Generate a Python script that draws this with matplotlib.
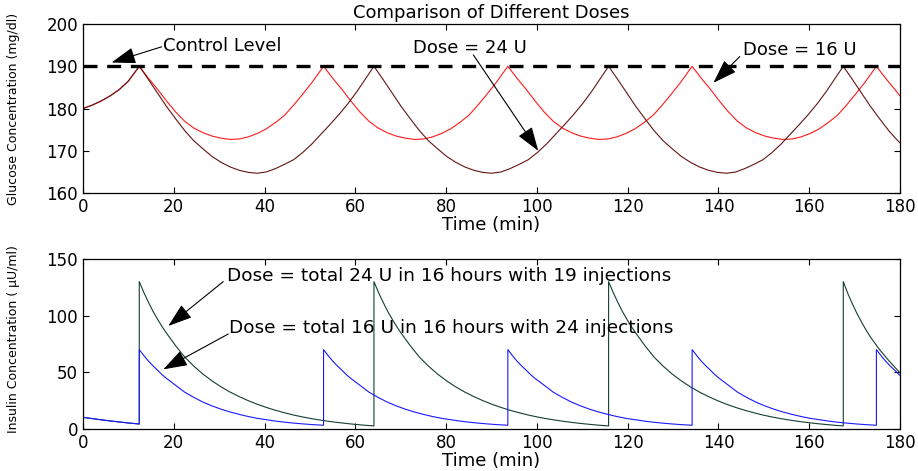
"""Glucose and insulin response for two dosing schedules (16 U vs 24 U)."""

import matplotlib

matplotlib.use("Agg")
import matplotlib.pyplot as plt

# ---- glucose, 16 U (red) ----
glu16_t = [
    0, 2, 4, 6, 8, 10,
    12.4, 14.4, 16.4, 18.4, 20.4, 22.4, 24.4, 26.4, 28.4, 30.4,
    32.4, 34.4, 36.4, 38.4, 40.4, 42.4, 44.4, 46.4, 48.4, 50.4,
    53.0, 55.0, 57.0, 59.0, 61.0, 63.0, 65.0, 67.0, 69.0, 71.0,
    73.0, 75.0, 77.0, 79.0, 81.0, 83.0, 85.0, 87.0, 89.0, 91.0,
    93.6, 95.6, 97.6, 99.6, 101.6, 103.6, 105.6, 107.6, 109.6, 111.6,
    113.6, 115.6, 117.6, 119.6, 121.6, 123.6, 125.6, 127.6, 129.6, 131.6,
    134.2, 136.2, 138.2, 140.2, 142.2, 144.2, 146.2, 148.2, 150.2, 152.2,
    154.2, 156.2, 158.2, 160.2, 162.2, 164.2, 166.2, 168.2, 170.2, 172.2,
    174.8, 176.8, 178.8, 180.0,
]
glu16_val = [
    180.0, 180.8, 181.8, 183.0, 184.5, 186.5,
    190.0, 187.2, 184.6, 181.8, 179.2, 177.0, 175.4, 174.3, 173.5, 173.0,
    172.7, 172.8, 173.3, 174.1, 175.2, 176.7, 178.4, 180.8, 183.4, 186.1,
    190.0, 187.2, 184.6, 181.8, 179.2, 177.0, 175.4, 174.3, 173.5, 173.0,
    172.7, 172.8, 173.3, 174.1, 175.2, 176.7, 178.4, 180.8, 183.4, 186.1,
    190.0, 187.2, 184.6, 181.8, 179.2, 177.0, 175.4, 174.3, 173.5, 173.0,
    172.7, 172.8, 173.3, 174.1, 175.2, 176.7, 178.4, 180.8, 183.4, 186.1,
    190.0, 187.2, 184.6, 181.8, 179.2, 177.0, 175.4, 174.3, 173.5, 173.0,
    172.7, 172.8, 173.3, 174.1, 175.2, 176.7, 178.4, 180.8, 183.4, 186.1,
    190.0, 187.2, 184.6, 183.0,
]

# ---- glucose, 24 U (dark red) ----
glu24_t = [
    0, 2, 4, 6, 8, 10,
    12.4, 14.4, 16.4, 18.4, 20.4, 22.4, 24.4, 26.4, 28.4, 30.4, 32.4, 34.4, 36.4,
    38.4, 40.4, 42.4, 44.4, 46.4, 48.4, 50.4, 52.4, 54.4, 56.4, 58.4, 60.4, 62.4,
    64.1, 66.1, 68.1, 70.1, 72.1, 74.1, 76.1, 78.1, 80.1, 82.1, 84.1, 86.1, 88.1,
    90.1, 92.1, 94.1, 96.1, 98.1, 100.1, 102.1, 104.1, 106.1, 108.1, 110.1, 112.1, 114.1,
    115.8, 117.8, 119.8, 121.8, 123.8, 125.8, 127.8, 129.8, 131.8, 133.8, 135.8, 137.8, 139.8,
    141.8, 143.8, 145.8, 147.8, 149.8, 151.8, 153.8, 155.8, 157.8, 159.8, 161.8, 163.8, 165.8,
    167.5, 169.5, 171.5, 173.5, 175.5, 177.5, 179.5, 180.0,
]
glu24_val = [
    180.0, 180.8, 181.8, 183.0, 184.5, 186.5,
    190.0, 186.9, 183.7, 180.5, 177.6, 174.8, 172.4, 170.5, 168.7, 167.3, 166.2, 165.4, 164.9,
    164.7, 165.0, 165.8, 166.8, 167.9, 169.6, 171.6, 173.9, 176.2, 178.6, 181.2, 184.1, 187.3,
    190.0, 186.9, 183.7, 180.5, 177.6, 174.8, 172.4, 170.5, 168.7, 167.3, 166.2, 165.4, 164.9,
    164.7, 165.0, 165.8, 166.8, 167.9, 169.6, 171.6, 173.9, 176.2, 178.6, 181.2, 184.1, 187.3,
    190.0, 186.9, 183.7, 180.5, 177.6, 174.8, 172.4, 170.5, 168.7, 167.3, 166.2, 165.4, 164.9,
    164.7, 165.0, 165.8, 166.8, 167.9, 169.6, 171.6, 173.9, 176.2, 178.6, 181.2, 184.1, 187.3,
    190.0, 186.9, 183.7, 180.5, 177.6, 174.8, 172.4, 171.9,
]

control_level = 190

# ---- insulin, 24 U / 19 injections (dark green) ----
ins24_t = [
    0, 2, 4, 6, 8, 10, 12.4,
    12.4, 13.4, 14.4, 15.4, 16.4, 17.4, 18.4, 20.4, 22.4, 24.4, 26.4, 28.4, 30.4, 32.4, 34.4,
    36.4, 38.4, 40.4, 42.4, 44.4, 46.4, 48.4, 50.4, 52.4, 54.4, 56.4, 58.4, 60.4, 62.4, 64.1,
    64.1, 65.1, 66.1, 67.1, 68.1, 69.1, 70.1, 72.1, 74.1, 76.1, 78.1, 80.1, 82.1, 84.1, 86.1,
    88.1, 90.1, 92.1, 94.1, 96.1, 98.1, 100.1, 102.1, 104.1, 106.1, 108.1, 110.1, 112.1, 114.1, 115.8,
    115.8, 116.8, 117.8, 118.8, 119.8, 120.8, 121.8, 123.8, 125.8, 127.8, 129.8, 131.8, 133.8, 135.8, 137.8,
    139.8, 141.8, 143.8, 145.8, 147.8, 149.8, 151.8, 153.8, 155.8, 157.8, 159.8, 161.8, 163.8, 165.8, 167.5,
    167.5, 168.5, 169.5, 170.5, 171.5, 172.5, 173.5, 175.5, 177.5, 180.0,
]
ins24_val = [
    10.3, 9.2, 8.1, 7.1, 6.2, 5.3, 4.4,
    130.0, 120.5, 112.0, 104.0, 97.0, 90.5, 84.5, 73.5, 63.5, 55.5, 48.5, 42.5, 37.2, 32.6, 28.6,
    25.0, 21.8, 19.0, 16.5, 14.3, 12.3, 10.6, 9.1, 7.8, 6.6, 5.6, 4.7, 3.9, 3.2, 2.7,
    130.0, 120.5, 112.0, 104.0, 97.0, 90.5, 84.5, 73.5, 63.5, 55.5, 48.5, 42.5, 37.2, 32.6, 28.6,
    25.0, 21.8, 19.0, 16.5, 14.3, 12.3, 10.6, 9.1, 7.8, 6.6, 5.6, 4.7, 3.9, 3.2, 2.7,
    130.0, 120.5, 112.0, 104.0, 97.0, 90.5, 84.5, 73.5, 63.5, 55.5, 48.5, 42.5, 37.2, 32.6, 28.6,
    25.0, 21.8, 19.0, 16.5, 14.3, 12.3, 10.6, 9.1, 7.8, 6.6, 5.6, 4.7, 3.9, 3.2, 2.7,
    130.0, 119.5, 110.5, 102.0, 94.5, 87.5, 81.0, 70.0, 60.5, 49.5,
]

# ---- insulin, 16 U / 24 injections (blue) ----
ins16_t = [
    0, 2, 4, 6, 8, 10, 12.4,
    12.4, 13.4, 14.4, 15.4, 16.4, 17.4, 18.4, 20.4, 22.4, 24.4, 26.4, 28.4,
    30.4, 32.4, 34.4, 36.4, 38.4, 40.4, 42.4, 44.4, 46.4, 48.4, 50.4, 53.0,
    53.0, 54.0, 55.0, 56.0, 57.0, 58.0, 59.0, 61.0, 63.0, 65.0, 67.0, 69.0,
    71.0, 73.0, 75.0, 77.0, 79.0, 81.0, 83.0, 85.0, 87.0, 89.0, 91.0, 93.6,
    93.6, 94.6, 95.6, 96.6, 97.6, 98.6, 99.6, 101.6, 103.6, 105.6, 107.6, 109.6,
    111.6, 113.6, 115.6, 117.6, 119.6, 121.6, 123.6, 125.6, 127.6, 129.6, 131.6, 134.2,
    134.2, 135.2, 136.2, 137.2, 138.2, 139.2, 140.2, 142.2, 144.2, 146.2, 148.2, 150.2,
    152.2, 154.2, 156.2, 158.2, 160.2, 162.2, 164.2, 166.2, 168.2, 170.2, 172.2, 174.8,
    174.8, 175.8, 176.8, 177.8, 178.8, 179.8, 180.0,
]
ins16_val = [
    10.3, 9.2, 8.1, 7.1, 6.2, 5.3, 4.4,
    70.0, 64.8, 60.0, 55.8, 52.0, 48.0, 44.6, 38.6, 32.5, 27.9, 23.8, 20.4,
    17.5, 15.0, 12.9, 11.0, 9.4, 8.2, 7.0, 6.0, 5.2, 4.5, 3.9, 3.3,
    70.0, 64.8, 60.0, 55.8, 52.0, 48.0, 44.6, 38.6, 32.5, 27.9, 23.8, 20.4,
    17.5, 15.0, 12.9, 11.0, 9.4, 8.2, 7.0, 6.0, 5.2, 4.5, 3.9, 3.3,
    70.0, 64.8, 60.0, 55.8, 52.0, 48.0, 44.6, 38.6, 32.5, 27.9, 23.8, 20.4,
    17.5, 15.0, 12.9, 11.0, 9.4, 8.2, 7.0, 6.0, 5.2, 4.5, 3.9, 3.3,
    70.0, 64.8, 60.0, 55.8, 52.0, 48.0, 44.6, 38.6, 32.5, 27.9, 23.8, 20.4,
    17.5, 15.0, 12.9, 11.0, 9.4, 8.2, 7.0, 6.0, 5.2, 4.5, 3.9, 3.3,
    70.0, 64.8, 60.0, 55.8, 52.0, 48.0, 47.3,
]

x_ticks = [0, 20, 40, 60, 80, 100, 120, 140, 160, 180]
glu_ticks = [160, 170, 180, 190, 200]
ins_ticks = [0, 50, 100, 150]

plt.rcParams["font.family"] = ["DejaVu Sans"]

RED = "#ff1a1a"
DARK_RED = "#641414"
GREEN = "#143d35"
BLUE = "#1a1aff"


def style_axes(ax):
    ax.tick_params(direction="in", top=True, right=True, length=4,
                   width=0.8, labelsize=12, pad=3.5)
    for sp in ax.spines.values():
        sp.set_linewidth(0.9)


def arrow(ax, tail, tip):
    ax.annotate(
        "", xy=tip, xytext=tail,
        arrowprops=dict(arrowstyle="-|>,head_length=1.0,head_width=0.34",
                        mutation_scale=15, color="black", lw=0.8,
                        shrinkA=0, shrinkB=0),
    )


fig = plt.figure(figsize=(9.18, 4.71), dpi=100)
ax1 = fig.add_axes([0.0904, 0.590, 0.890, 0.359])
ax2 = fig.add_axes([0.0904, 0.0892, 0.890, 0.361])

# top: glucose
ax1.plot(glu16_t, glu16_val, color=RED, lw=0.8)
ax1.plot(glu24_t, glu24_val, color=DARK_RED, lw=0.8)
ax1.plot([0, 180], [control_level, control_level], color="black", lw=2.4,
         dashes=[4.2, 2.9])
ax1.set_xlim(0, 180)
ax1.set_ylim(160, 200)
ax1.set_xticks(x_ticks)
ax1.set_yticks(glu_ticks)
style_axes(ax1)
ax1.set_title("Comparison of Different Doses", fontsize=13, pad=4)
ax1.set_xlabel("Time (min)", fontsize=13, labelpad=0)
ax1.set_ylabel("Glucose Concentration (mg/dl)", fontsize=9)
ax1.yaxis.set_label_coords(-0.077, 0.5)

ax1.text(17.6, 194.8, "Control Level", fontsize=13, va="center")
arrow(ax1, (17.3, 194.6), (6.3, 190.9))
ax1.text(72.7, 194.3, "Dose = 24 U", fontsize=13, va="center")
arrow(ax1, (86.0, 192.7), (100.3, 170.0))
ax1.text(145.4, 193.9, "Dose = 16 U", fontsize=13, va="center")
arrow(ax1, (144.7, 192.3), (138.9, 186.1))

# bottom: insulin
ax2.plot(ins24_t, ins24_val, color=GREEN, lw=0.8)
ax2.plot(ins16_t, ins16_val, color=BLUE, lw=0.8)
ax2.set_xlim(0, 180)
ax2.set_ylim(0, 150)
ax2.set_xticks(x_ticks)
ax2.set_yticks(ins_ticks)
style_axes(ax2)
ax2.set_xlabel("Time (min)", fontsize=13, labelpad=0)
ax2.set_ylabel("Insulin Concentration ( \u03bcU/ml)", fontsize=9)
ax2.yaxis.set_label_coords(-0.077, 0.53)

ax2.text(31.7, 135.0, "Dose = total 24 U in 16 hours with 19 injections",
         fontsize=13.3, va="center")
arrow(ax2, (30.9, 130.0), (18.8, 90.9))
ax2.text(32.2, 89.1, "Dose = total 16 U in 16 hours with 24 injections",
         fontsize=13.3, va="center")
arrow(ax2, (32.0, 83.8), (17.7, 52.6))

fig.savefig("out.png", dpi=100)
